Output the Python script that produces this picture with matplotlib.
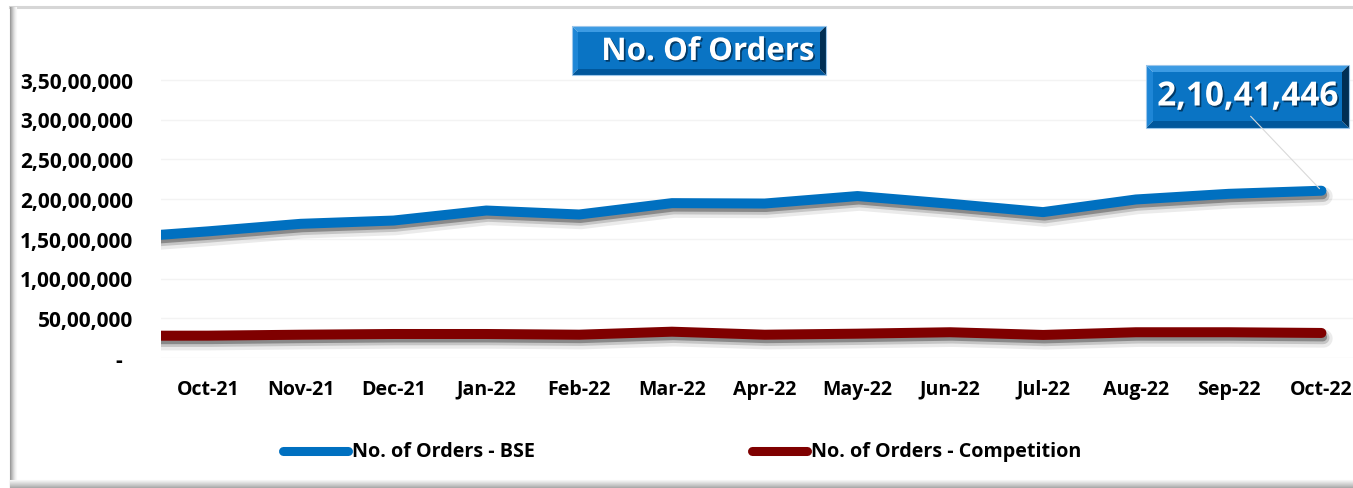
import matplotlib
matplotlib.use("Agg")
import matplotlib.pyplot as plt
import matplotlib.patheffects as pe
from matplotlib.patches import Polygon
from matplotlib.lines import Line2D
from matplotlib.text import Annotation

# ---------------- data ----------------
months = ["Sep-21", "Oct-21", "Nov-21", "Dec-21", "Jan-22", "Feb-22", "Mar-22",
          "Apr-22", "May-22", "Jun-22", "Jul-22", "Aug-22", "Sep-22", "Oct-22"]
orders_bse = [15080000, 15930000, 16880000, 17290000, 18550000, 18050000, 19480000,
              19430000, 20370000, 19400000, 18350000, 19940000, 20650000, 21041446]
orders_comp = [2800000, 2810000, 2930000, 3020000, 3020000, 2930000, 3310000,
               2930000, 3060000, 3240000, 2900000, 3240000, 3240000, 3150000]
yticks = [0, 5000000, 10000000, 15000000, 20000000, 25000000, 30000000, 35000000]
title = "No. Of Orders"
series_names = ["No. of Orders - BSE", "No. of Orders - Competition"]

W, H = 1353, 489
FONT = "Open Sans"
BLUE = "#0070C0"
RED = "#7F0000"


def indian(n):
    n = int(round(n))
    if n == 0:
        return "-  "
    s = str(n)
    if len(s) <= 3:
        return s
    head, tail = s[:-3], s[-3:]
    parts = []
    while len(head) > 2:
        parts.insert(0, head[-2:])
        head = head[:-2]
    if head:
        parts.insert(0, head)
    return ",".join(parts + [tail])


def fx(x):
    return x / W


def fy(y):
    return 1 - y / H


fig = plt.figure(figsize=(W / 100, H / 100), dpi=100)
fig.patch.set_facecolor("white")

# ---------- outer frame ----------
fig.add_artist(Line2D([fx(10), fx(1353)], [fy(8), fy(8)], color="#D6D6D6", lw=2.2))
for i, g in enumerate(["#9A9A9A", "#AFAFAF", "#C2C2C2", "#D4D4D4", "#E3E3E3", "#EFEFEF", "#F7F7F7"]):
    fig.add_artist(Line2D([fx(9.5 + i), fx(9.5 + i)], [fy(8), fy(489)], color=g, lw=0.8))
for i, g in enumerate(["#F5F5F5", "#ECECEC", "#E2E2E2", "#D8D8D8", "#CECECE", "#C4C4C4", "#B8B8B8", "#ABABAB"]):
    fig.add_artist(Line2D([fx(10), fx(1353)], [fy(480.5 + i), fy(480.5 + i)], color=g, lw=0.8))

# ---------- axes ----------
ax = fig.add_axes([fx(161), fy(359), fx(1353) - fx(161), fy(41) - fy(359)])
ax.set_facecolor("white")
x = list(range(-1, len(months) - 1))

def shadow(lw):
    return [pe.SimpleLineShadow(offset=(1.5, -4.0), shadow_color="black", alpha=0.08, linewidth=lw + 6),
            pe.SimpleLineShadow(offset=(1.2, -3.5), shadow_color="black", alpha=0.16, linewidth=lw + 2),
            pe.SimpleLineShadow(offset=(1.0, -3.0), shadow_color="black", alpha=0.30, linewidth=lw - 1),
            pe.Normal()]

lw = 7.2
ax.plot(x, orders_comp, color=RED, lw=lw, solid_capstyle="round", solid_joinstyle="round",
        path_effects=shadow(lw), zorder=3)
ax.plot(x, orders_bse, color=BLUE, lw=lw, solid_capstyle="round", solid_joinstyle="round",
        path_effects=shadow(lw), zorder=4)

ax.set_xlim(-0.506, 12.34)
ax.set_ylim(0, 40000000)
ax.set_yticks(yticks)
ax.set_yticklabels([indian(v) for v in yticks], fontfamily=FONT, fontweight="bold",
                   fontsize=15, color="#000000")
ax.set_xticks(range(0, len(months) - 1))
ax.set_xticklabels(months[1:], fontfamily=FONT, fontweight="bold", fontsize=14, color="#000000")
ax.tick_params(axis="both", length=0)
ax.tick_params(axis="y", pad=20)
ax.tick_params(axis="x", pad=15)
for s in ax.spines.values():
    s.set_visible(False)
ax.grid(axis="y", color="#F3F3F3", lw=1)
ax.set_axisbelow(True)


# ---------- bevel boxes ----------
def bevel_box(x0, y0, x1, y1, b, z=10):
    def P(pts, c):
        fig.add_artist(Polygon([(fx(a), fy(bb)) for a, bb in pts], closed=True,
                               facecolor=c, edgecolor="none", zorder=z,
                               transform=fig.transFigure))
    P([(x0 + b, y0 + b), (x1 - b, y0 + b), (x1 - b, y1 - b), (x0 + b, y1 - b)], "#0A74C4")
    P([(x0, y0), (x1, y0), (x1 - b, y0 + b), (x0 + b, y0 + b)], "#3C9BE3")
    P([(x0, y0), (x0 + b, y0 + b), (x0 + b, y1 - b), (x0, y1)], "#1E86D6")
    P([(x0, y1), (x0 + b, y1 - b), (x1 - b, y1 - b), (x1, y1)], "#00579C")
    P([(x1, y0), (x1, y1), (x1 - b, y1 - b), (x1 - b, y0 + b)], "#002F55")
    fig.add_artist(Polygon([(fx(x0), fy(y0)), (fx(x1), fy(y0)), (fx(x1), fy(y1)), (fx(x0), fy(y1))],
                           closed=True, facecolor="none", edgecolor="#9CC6EA", lw=0.8,
                           zorder=z + 0.5, transform=fig.transFigure))

txt_fx = [pe.withSimplePatchShadow(offset=(1.2, -1.2), shadow_rgbFace="#00213D", alpha=0.7)]

bevel_box(572, 27, 826, 76, 6)
fig.text(fx(708), fy(53), title, ha="center", va="center", color="white",
         fontfamily=FONT, fontweight="bold", fontsize=22.5, zorder=12, path_effects=txt_fx)

bevel_box(1146, 66, 1349, 129, 7)
ann = Annotation(indian(orders_bse[-1]), xy=(12, orders_bse[-1]), xycoords=ax.transData,
                 xytext=(fx(1248), fy(98)), textcoords="figure fraction",
                 ha="center", va="center", color="white", fontfamily=FONT, fontweight="bold",
                 fontsize=24, path_effects=txt_fx, annotation_clip=False,
                 arrowprops=dict(arrowstyle="-", color="#D9D9D9", lw=0.8,
                                 shrinkA=0, shrinkB=2, relpos=(0.5, 0.0)))
ann.set_zorder(12)
fig.add_artist(ann)

# ---------- legend ----------
for (xa, xb, c, name) in [(283, 348, BLUE, series_names[0]), (752, 807, RED, series_names[1])]:
    fig.add_artist(Line2D([fx(xa), fx(xb)], [fy(452), fy(452)], color=c, lw=6.5,
                          solid_capstyle="round"))
    fig.text(fx(xb + 4), fy(452), name, ha="left", va="center", color="black",
             fontfamily=FONT, fontweight="bold", fontsize=14.2)

fig.savefig("out.png", dpi=100, facecolor="white")
